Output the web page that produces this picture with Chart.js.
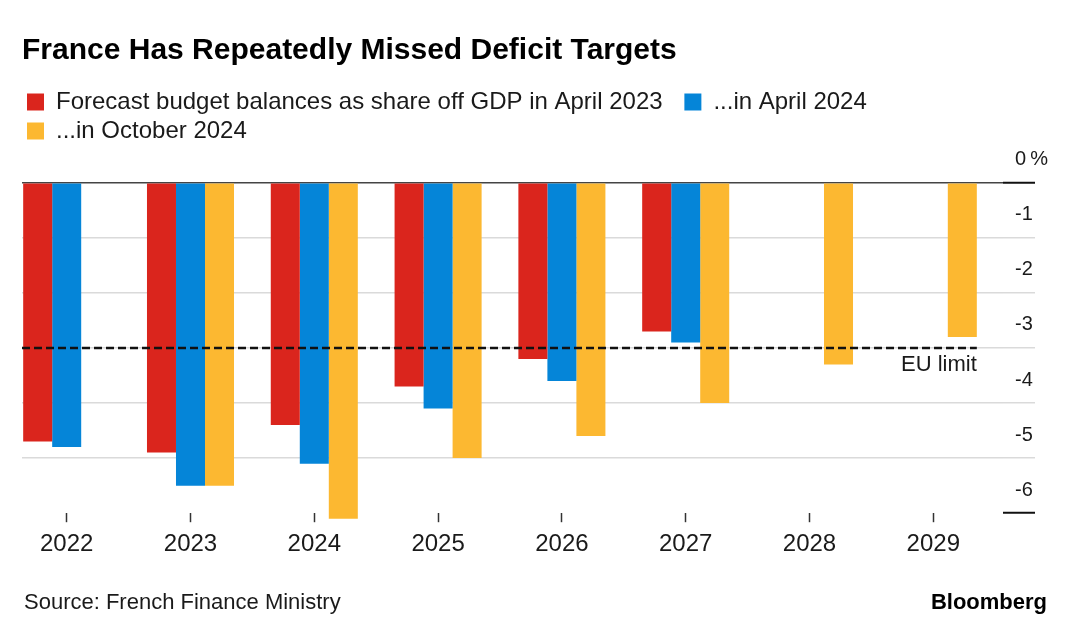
<!DOCTYPE html>
<html>
<head>
<meta charset="utf-8">
<script src="https://cdn.jsdelivr.net/npm/chart.js@4"></script>
<style>
  body { margin: 0; background: #fff; }
  #wrap { position: relative; width: 1080px; height: 637px; font-family: 'Liberation Sans', Arial, sans-serif; }
  #source { position: absolute; left: 24px; top: 589px; font-size: 22px; line-height: 26px; color: #1a1a1a; }
  #brand { position: absolute; right: 33px; top: 589px; font-size: 22px; line-height: 26px; font-weight: bold; color: #000; }
</style>
</head>
<body>
<div id="wrap">
  <canvas id="deficitChart" width="1080" height="637"></canvas>
  <div id="source">Source: French Finance Ministry</div>
  <div id="brand">Bloomberg</div>
</div>
<script>
const years = [2022, 2023, 2024, 2025, 2026, 2027, 2028, 2029];
const april2023 = [-4.7, -4.9, -4.4, -3.7, -3.2, -2.7, null, null];
const april2024 = [-4.8, -5.5, -5.1, -4.1, -3.6, -2.9, null, null];
const october2024 = [null, -5.5, -6.1, -5.0, -4.6, -4.0, -3.3, -2.8];
const seriesNames = ['Forecast budget balances as share off GDP in April 2023', '...in April 2024', '...in October 2024'];
const seriesColors = ['#da251d', '#0585d8', '#fcb831'];
const euLimit = -3;
const euLabel = 'EU limit';
const titleText = 'France Has Repeatedly Missed Deficit Targets';

const FONT = "'Liberation Sans', Arial, sans-serif";
Chart.defaults.font.family = FONT;
Chart.defaults.color = '#1a1a1a';

// dashed EU limit line across the bars, label under its right end
const euLimitPlugin = {
  id: 'euLimit',
  afterDatasetsDraw(chart) {
    const { ctx, chartArea, scales: { y } } = chart;
    const meta = chart.getDatasetMeta(2);
    const last = meta.data[meta.data.length - 1];
    const xEnd = last.x + last.width / 2;
    const yPix = y.getPixelForValue(euLimit);
    ctx.save();
    ctx.setLineDash([8, 4]);
    ctx.lineWidth = 2.5;
    ctx.strokeStyle = '#111';
    ctx.beginPath();
    ctx.moveTo(chartArea.left, yPix);
    ctx.lineTo(xEnd, yPix);
    ctx.stroke();
    ctx.setLineDash([]);
    ctx.fillStyle = '#1a1a1a';
    ctx.font = '22px ' + FONT;
    ctx.textAlign = 'right';
    ctx.textBaseline = 'middle';
    ctx.fillText(euLabel, xEnd, yPix + 17);
    ctx.restore();
  }
};

const series = [april2023, april2024, october2024];

new Chart(document.getElementById('deficitChart'), {
  type: 'bar',
  data: {
    labels: years,
    datasets: series.map((vals, i) => ({
      label: seriesNames[i],
      data: vals,
      backgroundColor: seriesColors[i],
      borderWidth: 0,
      categoryPercentage: 0.703,
      barPercentage: 1,
      clip: false
    }))
  },
  options: {
    responsive: false,
    animation: false,
    layout: { padding: { left: 22, right: 23, top: 0, bottom: 70 } },
    plugins: {
      title: {
        display: true,
        text: titleText,
        align: 'start',
        color: '#000',
        font: { size: 30, weight: 'bold' },
        padding: { top: 33, bottom: 16 }
      },
      legend: {
        position: 'top',
        align: 'start',
        labels: {
          boxWidth: 17,
          boxHeight: 17,
          padding: 5,
          color: '#1a1a1a',
          font: { size: 24 },
          generateLabels: chart => Chart.defaults.plugins.legend.labels.generateLabels(chart)
            .map((item, i) => ({ ...item, text: item.text + (i === 0 ? '\u2002\u2009' : '') }))
        }
      },
      tooltip: { enabled: false }
    },
    scales: {
      x: {
        type: 'linear',
        min: 2021.639,
        max: 2029.563,
        offset: false,
        border: { display: false },
        grid: { drawOnChartArea: false, offset: false, tickLength: 9, tickColor: '#333', tickWidth: 1.5 },
        ticks: {
          stepSize: 1,
          includeBounds: false,
          padding: 8,
          color: '#1a1a1a',
          font: { size: 24 },
          callback: v => String(v)
        }
      },
      y: {
        position: 'right',
        min: -6,
        max: 0.54,
        border: { display: false },
        afterFit: scale => { scale.width = 54; },
        grid: {
          tickLength: 32,
          color: c => c.tick.value === 0 ? '#444' : (c.tick.value === -6 ? 'rgba(0,0,0,0)' : '#dadada'),
          tickColor: c => (c.tick.value === 0 || c.tick.value === -6) ? '#111' : '#dadada',
          lineWidth: 1.5,
          tickWidth: c => (c.tick.value === 0 || c.tick.value === -6) ? 2 : 1.5
        },
        ticks: {
          stepSize: 1,
          includeBounds: false,
          labelOffset: -23,
          crossAlign: 'near',
          padding: -20,
          color: '#1a1a1a',
          font: { size: 20 },
          callback: v => v === 0 ? '0\u2009%' : String(v)
        }
      }
    }
  },
  plugins: [euLimitPlugin]
});
</script>
</body>
</html>
